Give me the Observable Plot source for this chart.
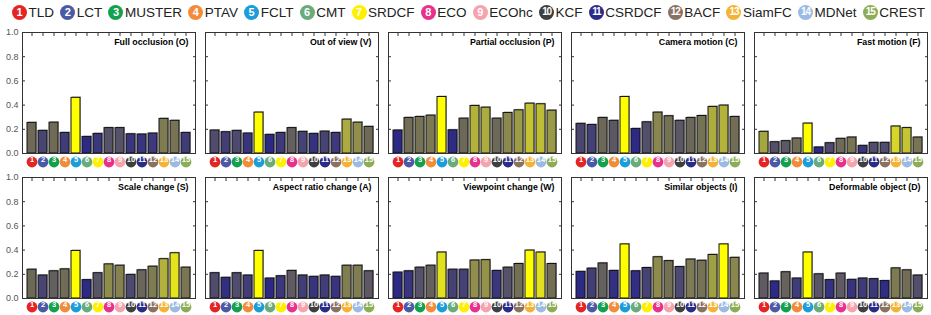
<!DOCTYPE html>
<html>
<head>
<meta charset="utf-8">
<script src="https://cdn.jsdelivr.net/npm/d3@7"></script>
<script src="https://cdn.jsdelivr.net/npm/@observablehq/plot@0.6"></script>
<style>
  body { margin: 0; background: white; font-family: "Liberation Sans", Arial, Helvetica, sans-serif; }
  #legend { height: 24px; display: flex; align-items: center; justify-content: space-between; padding: 0 6px 0 12px; box-sizing: border-box; width: 931px; }
  .item { display: flex; align-items: center; font-size: 13.5px; color: #222; white-space: nowrap; }
  .badge { width: 15px; height: 15px; border-radius: 50%; color: white; font-weight: bold; font-size: 11px; display: flex; align-items: center; justify-content: center; margin-right: 1.5px; line-height: 1; }
  .badge.two { letter-spacing: -1.2px; font-size: 10px; }
  g[aria-label="num"] text { letter-spacing: -0.7px; }
</style>
</head>
<body>
<div id="legend"></div>
<div id="chart"></div>
<script>
// ---- data ----
const trackers = ["TLD","LCT","MUSTER","PTAV","FCLT","CMT","SRDCF","ECO","ECOhc","KCF","CSRDCF","BACF","SiamFC","MDNet","CREST"];
const trackerColors = ["#e52424","#4b59a6","#13a04f","#f28b3a","#1b9dda","#6aab7c","#fff000","#e8318c","#f5a3ad","#3f3f3f","#2b2b88","#8a7262","#f5b335","#9cbbe3","#8cad55"];
const attributeNames = ["Full occlusion (O)","Out of view (V)","Partial occlusion (P)","Camera motion (C)","Fast motion (F)",
                        "Scale change (S)","Aspect ratio change (A)","Viewpoint change (W)","Similar objects (I)","Deformable object (D)"];
const fullOcclusion    = [0.253,0.187,0.255,0.170,0.460,0.137,0.162,0.210,0.210,0.159,0.157,0.165,0.286,0.270,0.170];
const outOfView        = [0.190,0.176,0.187,0.165,0.338,0.154,0.170,0.210,0.179,0.162,0.181,0.170,0.280,0.255,0.220];
const partialOcclusion = [0.190,0.294,0.302,0.313,0.467,0.192,0.288,0.393,0.379,0.288,0.335,0.357,0.412,0.407,0.354];
const cameraMotion     = [0.245,0.236,0.294,0.270,0.467,0.203,0.258,0.338,0.308,0.270,0.294,0.310,0.385,0.396,0.302];
const fastMotion       = [0.179,0.093,0.102,0.124,0.247,0.050,0.085,0.121,0.132,0.063,0.088,0.088,0.223,0.210,0.132];
const scaleChange      = [0.238,0.190,0.225,0.241,0.393,0.152,0.209,0.282,0.271,0.195,0.233,0.263,0.325,0.374,0.255];
const aspectRatio      = [0.209,0.171,0.209,0.190,0.393,0.165,0.184,0.228,0.190,0.179,0.190,0.179,0.271,0.271,0.225];
const viewpointChange  = [0.214,0.225,0.255,0.271,0.380,0.238,0.238,0.314,0.317,0.228,0.255,0.285,0.396,0.380,0.285];
const similarObjects   = [0.220,0.247,0.290,0.228,0.447,0.225,0.252,0.341,0.309,0.260,0.322,0.312,0.360,0.447,0.336];
const deformableObject = [0.206,0.141,0.217,0.165,0.380,0.200,0.152,0.206,0.154,0.165,0.160,0.144,0.249,0.233,0.190];
const yTicks = [0, 0.2, 0.4, 0.6, 0.8, 1];

const series = [fullOcclusion, outOfView, partialOcclusion, cameraMotion, fastMotion,
                scaleChange, aspectRatio, viewpointChange, similarObjects, deformableObject];

// build table
const rows = [];
const titles = [];
series.forEach((vals, a) => {
  const lo = d3.min(vals), hi = d3.max(vals);
  const col = a % 5, row = Math.floor(a / 5);
  titles.push({name: attributeNames[a], col, row});
  vals.forEach((v, i) => rows.push({i: i + 1, value: v, t: (v - lo) / (hi - lo), col, row}));
});

// legend
const legend = document.getElementById("legend");
trackers.forEach((name, k) => {
  const it = document.createElement("div");
  it.className = "item";
  const b = document.createElement("div");
  b.className = "badge" + (k >= 9 ? " two" : "");
  b.style.background = trackerColors[k];
  b.textContent = k + 1;
  it.appendChild(b);
  it.appendChild(document.createTextNode(name));
  legend.appendChild(it);
});

const fc = {fx: "col", fy: "row"};
const marks = [
  Plot.barY(rows, {x: "i", y: "value", ...fc, fill: "#b8b8b8", dx: 1, dy: -1}),
  Plot.barY(rows, {x: "i", y: "value", ...fc, fill: "t", stroke: "#111", strokeWidth: 1}),
  Plot.frame({stroke: "#333"}),
  Plot.axisY(yTicks, {anchor: "left", tickSize: -3, fill: "none", label: null, facetAnchor: null, stroke: "#333"}),
  Plot.axisY(yTicks, {anchor: "right", tickSize: -3, fill: "none", label: null, facetAnchor: null, stroke: "#333"}),
  Plot.axisX({anchor: "top", tickSize: -3, fill: "none", label: null, facetAnchor: null, stroke: "#333"}),
  Plot.axisY(yTicks, {anchor: "left", tickSize: 0, tickPadding: 4, label: null, fill: "#555", fontSize: 9}),
  Plot.text(titles, {...fc, text: "name", frameAnchor: "top-right", dx: -7, dy: 10, textAnchor: "end", lineAnchor: "middle",
                     fontWeight: "bold", fontSize: 8.8, fill: "black"}),
  ...trackers.map((name, k) => Plot.dot(rows.filter(d => d.i === k + 1), {x: "i", ...fc, frameAnchor: "bottom", dy: 8.5, r: 5.4, fill: trackerColors[k], stroke: "none"})),
  Plot.text(rows, {x: "i", ...fc, text: d => String(d.i), frameAnchor: "bottom", dy: 8.5, fill: "white", fontWeight: "bold", fontSize: 7.5, ariaLabel: "num"})
];

const chart = Plot.plot({
  width: 931, height: 291,
  marginLeft: 21, marginRight: 4, marginTop: 7, marginBottom: 16,
  style: {fontFamily: "'Liberation Sans', Arial, sans-serif", background: "white", overflow: "visible"},
  fx: {domain: [0,1,2,3,4], paddingInner: 0.055, paddingOuter: 0, axis: null, label: null},
  fy: {domain: [0,1], paddingInner: 0.164, paddingOuter: 0, axis: null, label: null},
  x: {domain: d3.range(1, 16), paddingInner: 0.17, paddingOuter: 0.3, axis: null},
  y: {domain: [0, 1], axis: null},
  color: {type: "linear", domain: [0, 0.15, 0.25, 0.36, 0.5, 0.62, 0.75, 0.88, 1],
          range: ["#2d2a86","#484472","#5b5666","#6e6a57","#878350","#a0a044","#b6b63a","#d6d62a","#ffff00"]},
  marks
});
document.getElementById("chart").appendChild(chart);
</script>
</body>
</html>
